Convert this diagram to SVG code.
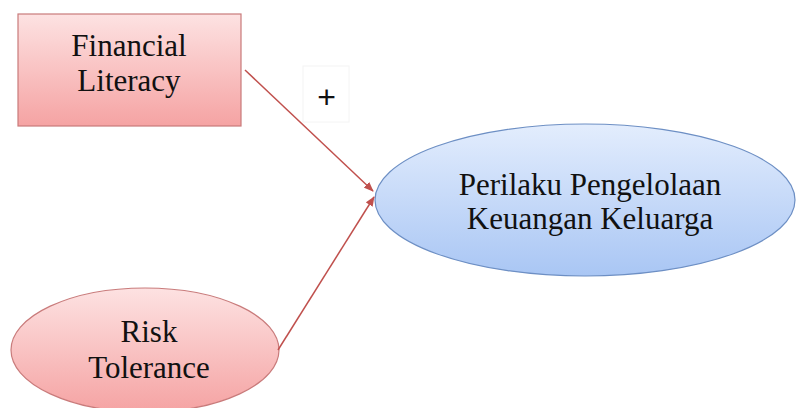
<svg xmlns="http://www.w3.org/2000/svg" width="800" height="408" viewBox="0 0 800 408">
<defs>
<linearGradient id="pink" x1="0" y1="0" x2="0" y2="1">
<stop offset="0" stop-color="#fde2e2"/>
<stop offset="1" stop-color="#f5a3a3"/>
</linearGradient>
<linearGradient id="blue" x1="0" y1="0" x2="0" y2="1">
<stop offset="0" stop-color="#e3edfd"/>
<stop offset="1" stop-color="#a9c6f4"/>
</linearGradient>
<marker id="arr" markerWidth="10" markerHeight="8" refX="9" refY="4" orient="auto" markerUnits="userSpaceOnUse">
<path d="M0,0 L10,4 L0,8 z" fill="#c0504d"/>
</marker>
</defs>
<style>
.t{font-family:"Liberation Serif","Times New Roman",serif;font-size:31px;fill:#111;text-anchor:middle}
.pk{fill:url(#pink);stroke:#c97b7b;stroke-width:1.2}
.bl{fill:url(#blue);stroke:#6d8fc4;stroke-width:1.2}
.c{stroke:#c0504d;stroke-width:1.5;fill:none}
</style>
<rect width="800" height="408" fill="#fff"/>
<g id="financial-literacy">
<rect x="18" y="14" width="223" height="112" class="pk"/>
<text x="129" y="56" class="t">Financial</text>
<text x="129" y="91" class="t">Literacy</text>
</g>
<g id="perilaku">
<ellipse cx="585" cy="200" rx="210" ry="76" class="bl"/>
<text x="590" y="195" class="t">Perilaku Pengelolaan</text>
<text x="590" y="229" class="t">Keuangan Keluarga</text>
</g>
<g id="risk-tolerance">
<ellipse cx="145" cy="350" rx="134" ry="62" class="pk"/>
<text x="149" y="342" class="t">Risk</text>
<text x="149" y="378" class="t">Tolerance</text>
</g>
<g id="connectors">
<line x1="245" y1="70" x2="373" y2="191" class="c" marker-end="url(#arr)"/>
<line x1="278" y1="350" x2="374" y2="197" class="c" marker-end="url(#arr)"/>
<rect x="303" y="66" width="46" height="56" fill="#fff" stroke="#f4f4f4" stroke-width="1"/>
<text x="326.5" y="108" style="font-family:'Liberation Sans',Arial,sans-serif;font-size:32px;fill:#111;text-anchor:middle">+</text>
</g>
</svg>
